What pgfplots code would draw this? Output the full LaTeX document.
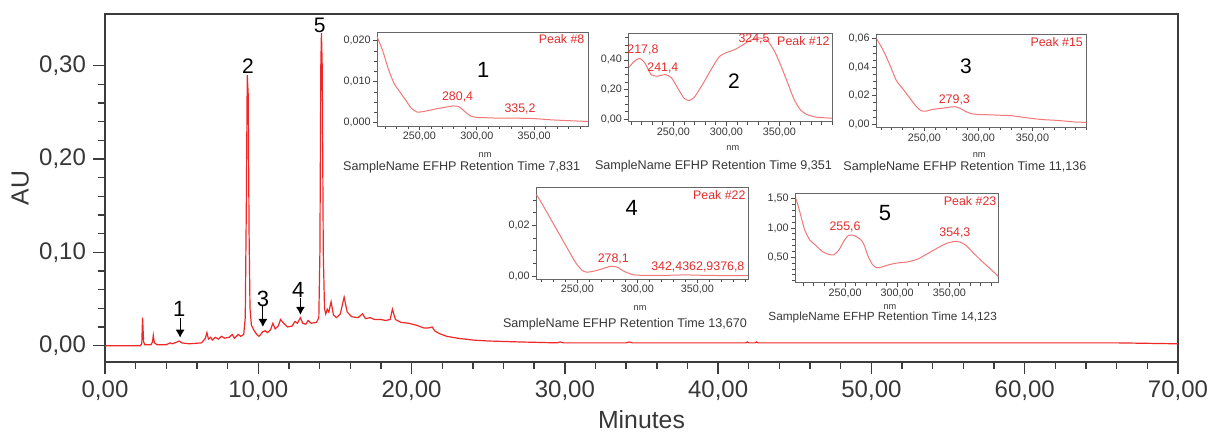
\documentclass[border=0pt]{standalone}
\usepackage{fontspec}
\setmainfont{Liberation Sans}
\usepackage{pgfplots}
\pgfplotsset{compat=1.18}
\usetikzlibrary{arrows.meta}
\definecolor{trace}{RGB}{238,40,40}
\definecolor{specred}{RGB}{240,120,120}
\definecolor{peaklbl}{RGB}{228,45,45}
\definecolor{txt}{RGB}{55,55,55}
\definecolor{frm}{RGB}{60,60,60}
\newcommand{\fs}[1]{\fontsize{#1}{#1}\selectfont}

\pgfplotsset{
  inset/.style={
    scale only axis, anchor=south west, clip=false,
    axis background/.style={fill=white},
    axis line style={draw=gray!80!black, line width=0.4pt},
    tick align=outside, major tick length=2pt, minor tick length=1.5pt,
    xtick pos=bottom, ytick pos=left,
    tick style={gray!60!black, line width=0.35pt},
    xtick={250,300,350}, minor xtick={200,210,...,400},
    scaled ticks=false,
    ticklabel style={font=\fs{5.4}, text=txt, inner sep=1pt},
    /pgf/number format/assume math mode=true,
    xticklabel style={/pgf/number format/.cd, fixed, fixed zerofill, precision=2, use comma},
  },
  spec/.style={color=specred, line width=0.5pt, smooth, tension=0.4, mark=none},
}
\tikzset{
  peak/.style={font=\fs{6.2}, text=peaklbl},
  capt/.style={font=\fs{6.3}, text=txt},
}

\begin{document}
\begin{tikzpicture}
\useasboundingbox (0,0) rectangle (605pt,216pt);

% chromatogram
\begin{axis}[
  at={(52.5pt,35pt)}, anchor=south west, scale only axis,
  width=536.5pt, height=174pt,
  xmin=0, xmax=70, ymin=-0.0175, ymax=0.3554,
  clip mode=individual,
  axis line style={draw=frm, line width=0.8pt},
  tick align=outside, major tick length=6pt, minor tick length=3.3pt,
  xtick pos=bottom, ytick pos=left,
  tick style={frm, line width=0.7pt},
  xtick={0,10,...,70}, minor x tick num=4,
  ytick={0,0.1,0.2,0.3}, minor y tick num=4,
  scaled ticks=false,
  ticklabel style={font=\fs{12}, text=txt},
  /pgf/number format/assume math mode=true,
  /pgf/number format/fixed, /pgf/number format/fixed zerofill,
  /pgf/number format/precision=2, /pgf/number format/use comma,
  xlabel={Minutes}, ylabel={AU},
  xlabel style={at={(axis description cs:0.5,-0.167)}, anchor=center, font=\fs{12.4}, text=txt},
  ylabel style={at={(axis description cs:-0.079,0.5)}, anchor=center, font=\fs{12.4}, text=txt},
]
\addplot[color=trace, line width=0.6pt, mark=none] coordinates {
(0,0.000)(2.3,0.000)(2.40,0.002)(2.45,0.030)(2.52,0.004)(2.6,0.001)(3.0,0.001)
(3.1,0.004)(3.15,0.011)(3.22,0.003)(3.4,0.001)(4.0,0.001)(4.25,0.003)(4.4,0.002)
(4.85,0.005)(5.0,0.003)(5.5,0.002)(6.3,0.003)(6.55,0.008)(6.65,0.014)(6.75,0.007)
(6.9,0.009)(7.0,0.006)(7.2,0.009)(7.4,0.007)(7.6,0.010)(7.8,0.008)(8.1,0.009)
(8.3,0.012)(8.45,0.008)(8.7,0.012)(8.85,0.010)(9.05,0.012)(9.15,0.03)(9.22,0.15)
(9.28,0.29)(9.34,0.27)(9.40,0.12)(9.46,0.04)(9.55,0.022)(9.7,0.017)(9.9,0.012)
(10.05,0.010)(10.3,0.015)(10.45,0.016)(10.6,0.014)(10.8,0.017)(10.95,0.024)
(11.1,0.018)(11.3,0.021)(11.45,0.028)(11.6,0.025)(11.9,0.020)(12.2,0.021)
(12.4,0.026)(12.55,0.024)(12.75,0.030)(12.9,0.024)(13.1,0.023)(13.25,0.027)
(13.45,0.024)(13.8,0.025)(13.95,0.03)(14.02,0.10)(14.08,0.30)(14.12,0.335)
(14.17,0.30)(14.24,0.10)(14.32,0.04)(14.4,0.034)(14.5,0.039)(14.6,0.036)
(14.75,0.047)(14.9,0.033)(15.1,0.030)(15.35,0.034)(15.6,0.052)(15.8,0.036)
(16.1,0.031)(16.5,0.030)(16.8,0.034)(17.0,0.029)(17.3,0.030)(17.6,0.028)
(18.0,0.028)(18.3,0.027)(18.6,0.028)(18.75,0.039)(18.95,0.028)(19.3,0.025)
(19.8,0.024)(20.3,0.022)(20.8,0.019)(21.1,0.019)(21.35,0.020)(21.5,0.016)
(21.8,0.013)(22.3,0.010)(23.0,0.008)(24.0,0.006)(25.0,0.005)(27.0,0.004)
(29.5,0.003)(29.7,0.004)(29.9,0.003)(34.0,0.003)(34.2,0.004)(34.4,0.003)
(40,0.003)(41.8,0.003)(41.9,0.004)(42.0,0.003)(42.4,0.003)(42.5,0.004)(42.6,0.003)
(50,0.003)(55,0.003)(60,0.003)(66,0.003)(70,0.002)
};
\node[font=\fs{10.5}] at (axis cs:9.33,0.300) {2};
\node[font=\fs{10.5}] at (axis cs:14.0,0.343) {5};
\node[font=\fs{11}] at (axis cs:4.85,0.039) {1};
\node[font=\fs{11}] at (axis cs:10.3,0.050) {3};
\node[font=\fs{11}] at (axis cs:12.6,0.060) {4};
\draw[-{Latex[length=4pt,width=4.5pt]}, line width=0.6pt] (axis cs:4.9,0.030) -- (axis cs:4.9,0.0085);
\draw[-{Latex[length=4pt,width=4.5pt]}, line width=0.6pt] (axis cs:10.3,0.042) -- (axis cs:10.3,0.020);
\draw[-{Latex[length=4pt,width=4.5pt]}, line width=0.6pt] (axis cs:12.75,0.051) -- (axis cs:12.75,0.033);
\end{axis}

% inset 1
\begin{axis}[inset, at={(188.5pt,153pt)}, width=105.5pt, height=47pt,
  xmin=213, xmax=397, ymin=-0.0008, ymax=0.0221,
  ytick={0,0.01,0.02}, minor ytick={0.0025,0.005,0.0075,0.0125,0.015,0.0175},
  yticklabel style={/pgf/number format/.cd, fixed, fixed zerofill, precision=3, use comma}]
\addplot[spec] coordinates {
(213,0.0210)(218,0.0175)(223,0.0130)(228,0.0095)(233,0.0075)(238,0.0055)
(243,0.0035)(248,0.0026)(253,0.0027)(260,0.0031)(267,0.0035)(273,0.0038)
(280,0.0041)(285,0.0038)(290,0.0026)(295,0.0016)(300,0.0013)(310,0.0012)
(320,0.0011)(335,0.0011)(350,0.0010)(365,0.0007)(380,0.0005)(397,0.0003)
};
\node[peak] at (rel axis cs:0.382,0.305) {280,4};
\node[peak] at (rel axis cs:0.678,0.178) {335,2};
\node[peak] at (rel axis cs:0.875,0.922) {Peak \#8};
\node[font=\fs{11}] at (rel axis cs:0.504,0.596) {1};
\node[font=\fs{4.6}, text=txt] at (rel axis cs:0.512,-0.309) {nm};
\node[capt] at (rel axis cs:0.401,-0.436) {SampleName EFHP Retention Time 7,831};
\end{axis}

% inset 2
\begin{axis}[inset, at={(314.2pt,155.2pt)}, width=102pt, height=44.2pt,
  xmin=207.5, xmax=400, ymin=-0.018, ymax=0.581,
  ytick={0,0.2,0.4}, minor ytick={0.05,0.1,0.15,0.25,0.3,0.35,0.45,0.5,0.55},
  yticklabel style={/pgf/number format/.cd, fixed, fixed zerofill, precision=2, use comma}]
\addplot[spec] coordinates {
(208,0.35)(213,0.39)(218,0.41)(223,0.38)(229,0.30)(235,0.29)(242,0.30)
(248,0.28)(254,0.21)(260,0.14)(265,0.125)(270,0.15)(278,0.24)(286,0.34)
(293,0.42)(300,0.45)(308,0.47)(315,0.50)(322,0.53)(330,0.55)(336,0.54)
(340,0.52)(346,0.45)(352,0.35)(358,0.24)(364,0.13)(370,0.06)(376,0.03)
(385,0.012)(400,0.005)
};
\node[peak] at (rel axis cs:0.071,0.811) {217,8};
\node[peak] at (rel axis cs:0.169,0.611) {241,4};
\node[peak] at (rel axis cs:0.616,0.936) {324,5};
\node[peak] at (rel axis cs:0.858,0.916) {Peak \#12};
\node[font=\fs{10.5}] at (rel axis cs:0.518,0.452) {2};
\node[font=\fs{4.6}, text=txt] at (rel axis cs:0.512,-0.30) {nm};
\node[capt] at (rel axis cs:0.417,-0.51) {SampleName EFHP Retention Time 9,351};
\end{axis}

% inset 3
\begin{axis}[inset, at={(438pt,152.4pt)}, width=105.3pt, height=46.2pt,
  xmin=205.4, xmax=400, ymin=-0.0021, ymax=0.0628,
  ytick={0,0.02,0.04,0.06}, minor ytick={0.005,0.01,0.015,0.025,0.03,0.035,0.045,0.05,0.055},
  yticklabel style={/pgf/number format/.cd, fixed, fixed zerofill, precision=2, use comma}]
\addplot[spec] coordinates {
(206,0.060)(212,0.052)(218,0.042)(224,0.031)(230,0.025)(236,0.019)(242,0.013)
(247,0.0095)(252,0.0092)(258,0.0105)(265,0.0110)(272,0.0118)(278,0.0123)
(283,0.0112)(288,0.0090)(294,0.0073)(300,0.0068)(310,0.0066)(320,0.0063)
(330,0.0060)(340,0.0050)(350,0.0040)(360,0.0032)(370,0.0028)(380,0.0022)
(390,0.0015)(400,0.0013)
};
\node[peak] at (rel axis cs:0.372,0.297) {279,3};
\node[peak] at (rel axis cs:0.858,0.917) {Peak \#15};
\node[font=\fs{10.5}] at (rel axis cs:0.427,0.657) {3};
\node[font=\fs{4.6}, text=txt] at (rel axis cs:0.49,-0.30) {nm};
\node[capt] at (rel axis cs:0.422,-0.43) {SampleName EFHP Retention Time 11,136};
\end{axis}

% inset 4
\begin{axis}[inset, at={(268pt,76.5pt)}, width=106.2pt, height=46pt,
  xmin=215.6, xmax=392.5, ymin=-0.0012, ymax=0.0351,
  ytick={0,0.02}, minor ytick={0.005,0.01,0.015,0.025,0.03},
  yticklabel style={/pgf/number format/.cd, fixed, fixed zerofill, precision=2, use comma}]
\addplot[spec] coordinates {
(216,0.032)(220,0.029)(226,0.024)(232,0.019)(238,0.014)(244,0.009)(249,0.005)
(254,0.0022)(258,0.0015)(264,0.0019)(270,0.0027)(276,0.0036)(280,0.0038)
(284,0.0033)(289,0.0018)(295,0.0007)(300,0.0003)(320,0.0002)(340,0.0004)
(360,0.0002)(392,0.0001)
};
\node[peak] at (rel axis cs:0.364,0.221) {278,1};
\node[peak] at (rel axis cs:0.762,0.134) {342,4362,9376,8};
\node[peak] at (rel axis cs:0.863,0.913) {Peak \#22};
\node[font=\fs{11}] at (rel axis cs:0.451,0.768) {4};
\node[font=\fs{4.6}, text=txt] at (rel axis cs:0.49,-0.312) {nm};
\node[capt] at (rel axis cs:0.419,-0.489) {SampleName EFHP Retention Time 13,670};
\end{axis}

% inset 5
\begin{axis}[inset, at={(397.5pt,74.7pt)}, width=101.7pt, height=44.4pt,
  xmin=202, xmax=397, ymin=0.065, ymax=1.584,
  ytick={0.5,1,1.5}, minor ytick={0.1,0.2,0.3,0.4,0.6,0.7,0.8,0.9,1.1,1.2,1.3,1.4},
  yticklabel style={/pgf/number format/.cd, fixed, fixed zerofill, precision=2, use comma}]
\addplot[spec] coordinates {
(203,1.50)(207,1.25)(211,0.98)(216,0.80)(222,0.70)(228,0.60)(234,0.55)
(239,0.54)(244,0.62)(249,0.78)(253,0.87)(256,0.88)(260,0.86)(265,0.80)
(268,0.72)(272,0.52)(276,0.38)(280,0.32)(285,0.33)(292,0.37)(300,0.40)
(310,0.42)(320,0.47)(330,0.57)(340,0.67)(348,0.74)(355,0.77)(360,0.76)
(366,0.70)(372,0.59)(380,0.45)(388,0.32)(397,0.17)
};
\node[peak] at (rel axis cs:0.246,0.631) {255,6};
\node[peak] at (rel axis cs:0.786,0.557) {354,3};
\node[peak] at (rel axis cs:0.861,0.913) {Peak \#23};
\node[font=\fs{11}] at (rel axis cs:0.443,0.782) {5};
\node[font=\fs{4.6}, text=txt] at (rel axis cs:0.467,-0.27) {nm};
\node[font=\fs{5.9}, text=txt] at (rel axis cs:0.431,-0.39) {SampleName EFHP Retention Time 14,123};
\end{axis}
\end{tikzpicture}
\end{document}
